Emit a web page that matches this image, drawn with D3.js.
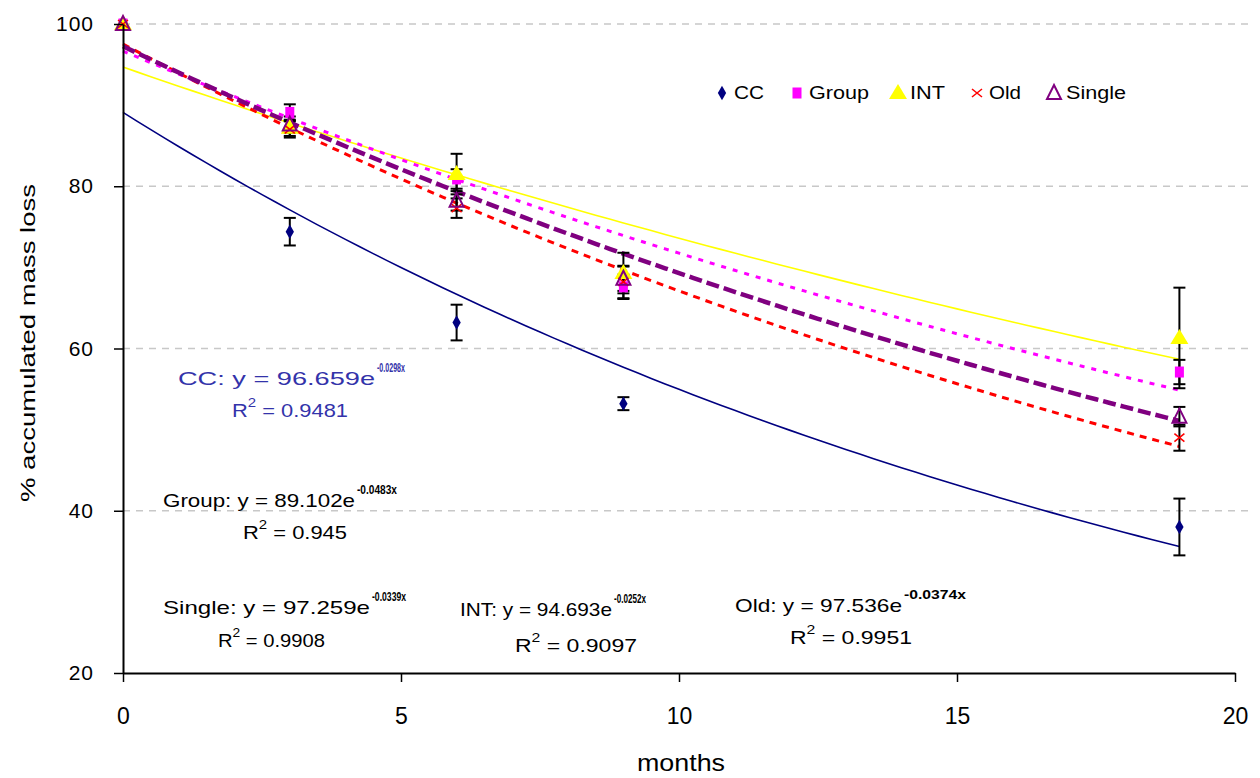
<!DOCTYPE html>
<html>
<head>
<meta charset="utf-8">
<script src="https://cdn.jsdelivr.net/npm/d3@7"></script>
<style>
  body { margin: 0; background: #fff; }
  svg { font-family: "Liberation Sans", Arial, sans-serif; }
</style>
</head>
<body>
<svg id="chart" width="1260" height="778"></svg>
<script>
// sample times (months)
const months = [0, 3, 6, 9, 19]

const seriesNames = ['CC', 'Group', 'INT', 'Old', 'Single']
const seriesColors = ['#000080', '#ff00ff', '#ffff00', '#ff0000', '#800080']

const ccValues = [100, 74.4, 63.2, 53.2, 38.0]
const groupValues = [100, 89.1, 80.9, 67.6, 57.1]
const intValues = [100, 87.2, 81.5, 69.3, 61.3]
const oldValues = [100, 87.0, 77.3, 68.2, 49.0]
const singleValues = [100, 87.6, 78.2, 68.6, 51.6]

const ccErr = [0, 1.7, 2.2, 0.8, 3.5]
const groupErr = [0, 1.0, 1.2, 1.5, 1.5]
const intErr = [0, 1.0, 2.5, 2.5, 6.2]
const oldErr = [0, 1.0, 1.2, 2.0, 1.6]
const singleErr = [0, 1.0, 1.2, 1.5, 1.2]

// exponential trendlines y = a * e^(-k x), as drawn
const trendA = [89.102, 96.659, 94.693, 97.536, 97.259]
const trendK = [0.0483, 0.0298, 0.0252, 0.0374, 0.0339]

// trendline labels, as printed on the chart
const eqMain = ['CC: y = 96.659e', 'Group: y =  89.102e', 'Single: y =  97.259e', 'INT: y = 94.693e', 'Old: y = 97.536e']
const eqExp = ['-0.0298x', '-0.0483x', '-0.0339x', '-0.0252x', '-0.0374x']
const eqR2 = ['0.9481', '0.945', '0.9908', '0.9097', '0.9951']

const xTicks = [0, 5, 10, 15, 20]
const yTicks = [20, 40, 60, 80, 100]

const allValues = [ccValues, groupValues, intValues, oldValues, singleValues]
const allErr = [ccErr, groupErr, intErr, oldErr, singleErr]

const svg = d3.select('#chart')

const x = d3.scaleLinear().domain([0, 20]).range([123, 1235])
const y = d3.scaleLinear().domain([20, 100]).range([673, 24])

// gridlines
svg.append('g')
  .selectAll('line')
  .data(yTicks.slice(1))
  .enter()
  .append('line')
  .attr('x1', x(0))
  .attr('x2', 1252)
  .attr('y1', d => y(d))
  .attr('y2', d => y(d))
  .attr('stroke', '#c8c8c8')
  .attr('stroke-width', 1.5)
  .attr('stroke-dasharray', '7,6')

// trendlines
const trendStyles = [
  { w: 1.6, dash: null },
  { w: 3, dash: '5,7' },
  { w: 1.6, dash: null },
  { w: 3, dash: '7,6' },
  { w: 4.5, dash: '13,5' }
]
const trendX = d3.range(0, 19.001, 0.25)
const line = d3.line().x(d => x(d[0])).y(d => y(d[1]))
const drawOrder = [0, 2, 3, 1, 4]
drawOrder.forEach(i => {
  svg.append('path')
    .datum(trendX.map(t => [t, trendA[i] * Math.exp(-trendK[i] * t)]))
    .attr('d', line)
    .attr('fill', 'none')
    .attr('stroke', seriesColors[i])
    .attr('stroke-width', trendStyles[i].w)
    .attr('stroke-dasharray', trendStyles[i].dash)
})

// error bars
allValues.forEach((vals, i) => {
  const g = svg.append('g').attr('stroke', '#000').attr('stroke-width', 2)
  vals.forEach((v, j) => {
    const e = allErr[i][j]
    if (e === 0) return
    const cx = x(months[j])
    g.append('line').attr('x1', cx).attr('x2', cx).attr('y1', y(v - e)).attr('y2', y(v + e))
    g.append('line').attr('x1', cx - 6).attr('x2', cx + 6).attr('y1', y(v - e)).attr('y2', y(v - e))
    g.append('line').attr('x1', cx - 6).attr('x2', cx + 6).attr('y1', y(v + e)).attr('y2', y(v + e))
  })
})

// markers
const drawMarker = (g, i, cx, cy) => {
  if (i === 0) {
    g.append('path').attr('d', d3.symbol(d3.symbolDiamond, 60)())
      .attr('transform', `translate(${cx},${cy})`).attr('fill', seriesColors[0])
  } else if (i === 1) {
    g.append('rect').attr('x', cx - 4.5).attr('y', cy - 5.5).attr('width', 9).attr('height', 11)
      .attr('fill', seriesColors[1])
  } else if (i === 2) {
    g.append('path').attr('d', `M${cx},${cy - 9}L${cx + 9},${cy + 6}L${cx - 9},${cy + 6}Z`)
      .attr('fill', seriesColors[2])
  } else if (i === 3) {
    g.append('path').attr('d', `M${cx - 5},${cy - 4}L${cx + 5},${cy + 4}M${cx + 5},${cy - 4}L${cx - 5},${cy + 4}`)
      .attr('stroke', seriesColors[3]).attr('stroke-width', 1.6).attr('fill', 'none')
  } else {
    g.append('path').attr('d', `M${cx},${cy - 8}L${cx + 7},${cy + 6}L${cx - 7},${cy + 6}Z`)
      .attr('fill', 'none').attr('stroke', seriesColors[4]).attr('stroke-width', 2)
  }
}

allValues.forEach((vals, i) => {
  const g = svg.append('g')
  vals.forEach((v, j) => drawMarker(g, i, x(months[j]), y(v)))
})

// axes
const xAxis = d3.axisBottom(x).tickValues(xTicks).tickSize(9).tickSizeOuter(0).tickPadding(26)
const gx = svg.append('g').attr('transform', `translate(0,${y(20)})`).call(xAxis)
gx.select('.domain').attr('stroke', '#000').attr('stroke-width', 2)
gx.selectAll('.tick line').attr('stroke', '#000').attr('stroke-width', 1.5)
gx.selectAll('.tick text').attr('font-size', 23).attr('fill', '#000')
  .attr('font-family', '"Liberation Sans Narrow", "Liberation Sans", Arial, sans-serif')

const yAxis = d3.axisLeft(y).tickValues(yTicks).tickSize(9).tickSizeOuter(0).tickPadding(20)
const gy = svg.append('g').attr('transform', `translate(${x(0)},0)`).call(yAxis)
gy.select('.domain').attr('stroke', '#000').attr('stroke-width', 2)
gy.selectAll('.tick line').attr('stroke', '#000').attr('stroke-width', 1.5)
gy.selectAll('.tick text').attr('font-size', 21).attr('fill', '#000').attr('letter-spacing', 1)

// axis titles
svg.append('text')
  .attr('x', 681).attr('y', 771)
  .attr('text-anchor', 'middle')
  .attr('font-size', 24)
  .attr('font-family', '"Liberation Sans Narrow", "Liberation Sans", Arial, sans-serif')
  .attr('textLength', 88)
  .attr('lengthAdjust', 'spacingAndGlyphs')
  .text('months')

svg.append('text')
  .attr('transform', 'translate(35,343) rotate(-90)')
  .attr('text-anchor', 'middle')
  .attr('font-size', 21)
  .attr('textLength', 318)
  .attr('lengthAdjust', 'spacingAndGlyphs')
  .text('% accumulated mass loss')

// legend
const legendX = [722, 797, 898, 977, 1054]
const legendW = [30, 60, 35, 32, 60]
const legend = svg.append('g')
seriesNames.forEach((name, i) => {
  drawMarker(legend, i, legendX[i], 93)
  legend.append('text')
    .attr('x', legendX[i] + 12).attr('y', 99)
    .attr('font-size', 18)
    .attr('textLength', legendW[i])
    .attr('lengthAdjust', 'spacingAndGlyphs')
    .text(name)
})

// equation labels
const eqPos = [[178, 385], [163, 507], [163, 614], [460, 616], [735, 612]]
const eqW = [197, 192, 207, 152, 167]
const expW = [28, 40, 34, 32, 62]
const r2Pos = [[232, 417], [243, 539], [218, 647], [515, 652], [790, 644]]
const r2W = [116, 104, 107, 122, 122]
const eqColors = ['#3333aa', '#000', '#000', '#000', '#000']
eqMain.forEach((t, i) => {
  svg.append('text')
    .attr('x', eqPos[i][0]).attr('y', eqPos[i][1])
    .attr('font-size', 19)
    .attr('fill', eqColors[i])
    .attr('textLength', eqW[i])
    .attr('lengthAdjust', 'spacingAndGlyphs')
    .text(t)
  svg.append('text')
    .attr('x', eqPos[i][0] + eqW[i] + 2).attr('y', eqPos[i][1] - 13)
    .attr('font-size', 12)
    .attr('font-weight', 'bold')
    .attr('fill', eqColors[i])
    .attr('textLength', expW[i])
    .attr('lengthAdjust', 'spacingAndGlyphs')
    .text(eqExp[i])
  const r = svg.append('text')
    .attr('x', r2Pos[i][0]).attr('y', r2Pos[i][1])
    .attr('font-size', 19)
    .attr('fill', eqColors[i])
    .attr('textLength', r2W[i])
    .attr('lengthAdjust', 'spacingAndGlyphs')
    .text('R')
  r.append('tspan').attr('dy', -10).attr('font-size', 13).text('2')
  r.append('tspan').attr('dy', 10).text(' = ' + eqR2[i])
})
</script>
</body>
</html>
